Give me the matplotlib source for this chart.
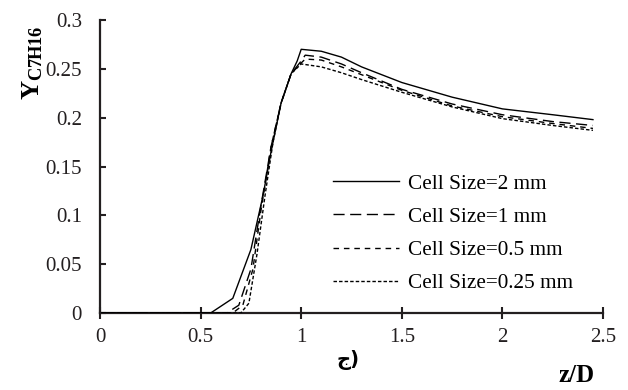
import matplotlib
matplotlib.use("Agg")
import matplotlib.pyplot as plt

# ---- data (z/D vs Y_C7H16) ----
x_2mm = [0, 0.55, 0.66, 0.75, 0.81, 0.85, 0.9, 0.95, 0.98, 1.0, 1.1, 1.2, 1.3, 1.5, 1.75, 2.0, 2.25, 2.45]
y_2mm = [0, 0, 0.015, 0.065, 0.12, 0.165, 0.215, 0.245, 0.258, 0.270, 0.268, 0.262, 0.252, 0.236, 0.221, 0.209, 0.203, 0.198]

x_1mm = [0, 0.63, 0.69, 0.75, 0.8, 0.85, 0.9, 0.95, 1.0, 1.02, 1.1, 1.2, 1.3, 1.5, 1.75, 2.0, 2.25, 2.45]
y_1mm = [0, 0, 0.008, 0.045, 0.11, 0.17, 0.215, 0.245, 0.258, 0.264, 0.262, 0.255, 0.246, 0.229, 0.214, 0.203, 0.196, 0.192]

x_05mm = [0, 0.66, 0.71, 0.76, 0.8, 0.85, 0.9, 0.95, 1.0, 1.02, 1.1, 1.2, 1.3, 1.5, 1.75, 2.0, 2.25, 2.45]
y_05mm = [0, 0, 0.008, 0.045, 0.105, 0.17, 0.215, 0.245, 0.256, 0.260, 0.259, 0.252, 0.244, 0.228, 0.212, 0.201, 0.194, 0.189]

x_025mm = [0, 0.7, 0.74, 0.78, 0.82, 0.86, 0.9, 0.95, 1.0, 1.1, 1.2, 1.3, 1.5, 1.75, 2.0, 2.25, 2.45]
y_025mm = [0, 0, 0.01, 0.06, 0.12, 0.175, 0.215, 0.245, 0.255, 0.252, 0.246, 0.239, 0.226, 0.211, 0.199, 0.192, 0.187]

labels = ["Cell Size=2 mm", "Cell Size=1 mm", "Cell Size=0.5 mm", "Cell Size=0.25 mm"]
x_ticks = [0, 0.5, 1, 1.5, 2, 2.5]
x_ticklabels = ["0", "0.5", "1", "1.5", "2", "2.5"]
y_ticks = [0, 0.05, 0.1, 0.15, 0.2, 0.25, 0.3]
y_ticklabels = ["0", "0.05", "0.1", "0.15", "0.2", "0.25", "0.3"]

plt.rcParams["font.family"] = ["Liberation Serif", "DejaVu Sans"]
plt.rcParams["mathtext.fontset"] = "custom"
plt.rcParams["mathtext.rm"] = "Liberation Serif"
plt.rcParams["mathtext.bf"] = "Liberation Serif:bold"

fig = plt.figure(figsize=(6.28, 3.9), dpi=100)
ax = fig.add_axes([100 / 628, 1 - 313 / 390, 503 / 628, 293 / 390])

lw = 1.0
ax.plot(x_2mm, y_2mm, color="black", lw=lw, linestyle="-", label=labels[0])
ax.plot(x_1mm, y_1mm, color="black", lw=lw, linestyle=(0, (8, 4)), label=labels[1])
ax.plot(x_05mm, y_05mm, color="black", lw=lw, linestyle=(0, (4, 3.5)), label=labels[2])
ax.plot(x_025mm, y_025mm, color="black", lw=lw, linestyle=(0, (2.5, 1.5)), label=labels[3])

ax.set_xlim(0, 2.5)
ax.set_ylim(0, 0.3)
ax.set_xticks(x_ticks)
ax.set_xticklabels(x_ticklabels)
ax.set_yticks(y_ticks)
ax.set_yticklabels(y_ticklabels)

for side in ["top", "right"]:
    ax.spines[side].set_visible(False)
for side in ["left", "bottom"]:
    ax.spines[side].set_linewidth(1.6)
    ax.spines[side].set_color("#231f20")
ax.spines["bottom"].set_zorder(1)

ax.tick_params(axis="y", direction="in", length=4.5, width=1.5, pad=13,
               labelsize=15, colors="#231f20")
ax.tick_params(axis="x", direction="inout", length=9, width=1.5, pad=6,
               labelsize=15, colors="#231f20")

ax.legend(frameon=False, loc="upper left", bbox_to_anchor=((333 - 100) / 503, (313 - 174) / 293),
          borderaxespad=0, borderpad=0, fontsize=15.3, handlelength=3.1,
          handletextpad=0.45, labelspacing=0.62)

# axis titles placed as in the reference
fig.text(33 / 628, 1 - 63 / 390, r"$\mathbf{Y_{C7H16}}$", rotation=90,
         ha="center", va="center", fontsize=19)
fig.text(577 / 628, 1 - 376 / 390, "z/D", ha="center", va="center",
         fontsize=18, fontweight="bold")
fig.text(348 / 628, 1 - 360 / 390, "ج)", ha="center", va="center",
         fontsize=14, fontweight="bold", family=["DejaVu Sans"])

fig.savefig("out.png", dpi=100)
